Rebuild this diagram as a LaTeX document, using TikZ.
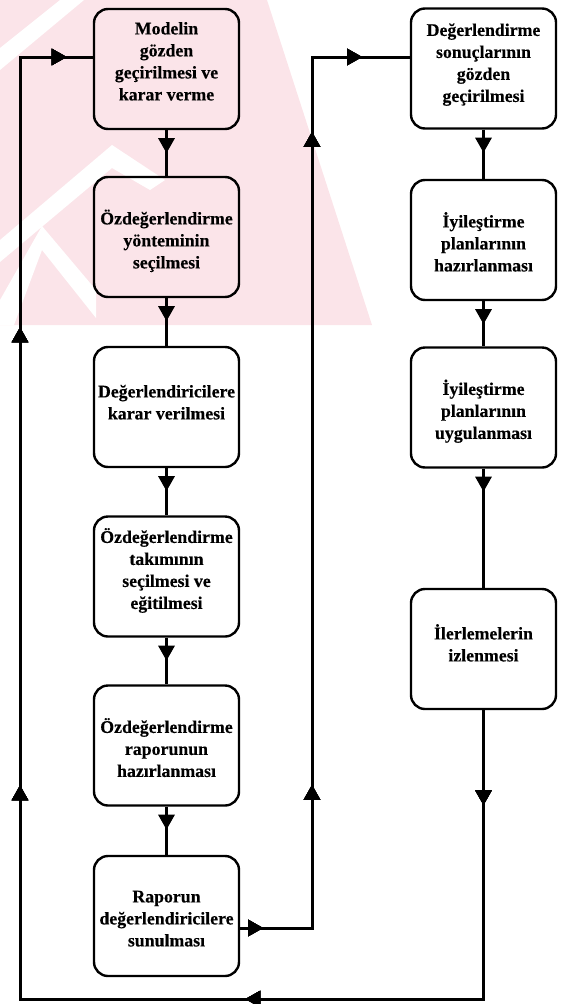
\documentclass[tikz,border=0pt]{standalone}
\usepackage{fontspec}
\setmainfont{Liberation Serif}[BoldFeatures={FakeBold=0.3}]
\usetikzlibrary{arrows.meta,decorations.markings}

\definecolor{wmpink}{RGB}{251,228,233}

% lines of a box, moved up (positive) or down (negative) by #1
\newcommand\boxlines[2]{\raisebox{#1}[\height][\depth]{\begin{tabular}{@{}c@{}}#2\end{tabular}}}

\tikzset{
  stepbox/.style={draw, line width=2.4pt, rounded corners=14pt,
    minimum width=145pt, minimum height=120pt, align=center, inner sep=0pt,
    font=\fontsize{17.8}{22}\selectfont\bfseries},
  flow/.style={line width=3pt},
  tipat/.style={postaction={decorate},
    decoration={markings, mark=at position #1 with {\arrow{Triangle[length=15pt,width=16pt]}}}},
}

\begin{document}
\begin{tikzpicture}[x=1pt,y=-1pt]
\useasboundingbox (0,0) rectangle (565,1004);

% faint background stamp
\fill[wmpink] (0,0) -- (267,0) -- (372,325) -- (0,325) -- cycle;
\fill[white] (0,240) -- (112,145) -- (165,180) -- (150,190) -- (112,168) -- (0,262) -- cycle;
\fill[white] (0,300) -- (42,226) -- (96,290) -- (96,318) -- (42,250) -- (14,325) -- (0,325) -- cycle;
\fill[white] (60,0) -- (84,0) -- (0,70) -- (0,48) -- cycle;

% left column
\node[stepbox] (L1) at (166.5,69)    {\boxlines{6pt}{Modelin\\gözden\\geçirilmesi ve\\karar verme}};
\node[stepbox] (L2) at (166.5,237)   {\boxlines{-5pt}{Özdeğerlendirme\\yönteminin\\seçilmesi}};
\node[stepbox] (L3) at (166.5,407)   {\boxlines{3pt}{Değerlendiricilere\\karar verilmesi}};
\node[stepbox] (L4) at (166.5,576.5) {\boxlines{5pt}{Özdeğerlendirme\\takımının\\seçilmesi ve\\eğitilmesi}};
\node[stepbox] (L5) at (166.5,745.5) {\boxlines{-5pt}{Özdeğerlendirme\\raporunun\\hazırlanması}};
\node[stepbox] (L6) at (166.5,916)   {\boxlines{-4pt}{Raporun\\değerlendiricilere\\sunulması}};

% right column
\node[stepbox] (R1) at (483.5,68.5)  {\boxlines{4pt}{Değerlendirme\\sonuçlarının\\gözden\\geçirilmesi}};
\node[stepbox] (R2) at (483.5,240)   {\boxlines{-5pt}{İyileştirme\\planlarının\\hazırlanması}};
\node[stepbox] (R3) at (483.5,407.5) {\boxlines{-5pt}{İyileştirme\\planlarının\\uygulanması}};
\node[stepbox] (R4) at (483.5,649)   {\boxlines{3pt}{İlerlemelerin\\izlenmesi}};

% corner points of the two return loops
\coordinate (br) at (483.5,999);
\coordinate (bl) at (20,999);
\coordinate (tl) at (20,57);
\coordinate (ml) at (312,928);
\coordinate (mt) at (312,57);

% straight steps
\foreach \a/\b in {L1/L2,L2/L3,L3/L4,L4/L5,L5/L6,R1/R2,R2/R3,R3/R4}
  \draw[flow, tipat=23pt] (\a) -- (\b);

% outer loop back to the first step
\draw[flow, tipat=95pt, tipat=527pt, tipat=966pt, tipat=1424pt, tipat=1741pt]
  (R4.south) -- (br) -- (bl) -- (tl) -- (tl -| L1.west);

% report feeding the review of results
\draw[flow, tipat=23pt, tipat=215pt, tipat=868pt, tipat=993pt]
  (L6.east |- ml) -- (ml) -- (mt) -- (mt -| R1.west);
\end{tikzpicture}
\end{document}
